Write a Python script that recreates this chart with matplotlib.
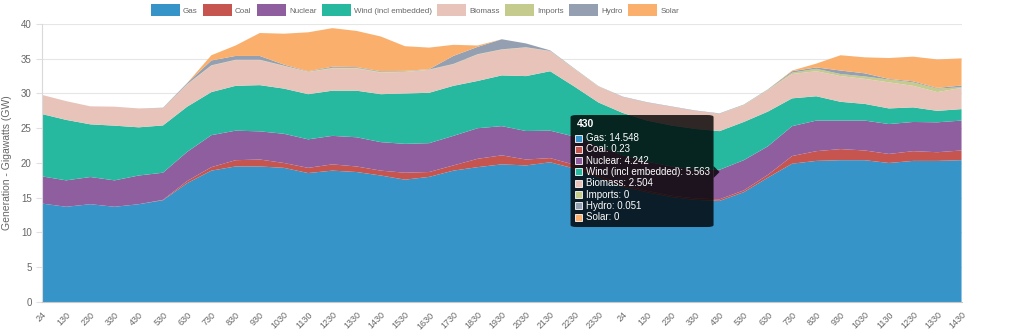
import matplotlib
matplotlib.use("Agg")
import matplotlib.pyplot as plt
from matplotlib.patches import FancyBboxPatch, Rectangle, Polygon
import numpy as np

plt.rcParams['font.family'] = ['Liberation Sans', 'DejaVu Sans']

# half-hour settlement labels, one point per hour
labels = ['24', '130', '230', '330', '430', '530', '630', '730', '830', '930',
          '1030', '1130', '1230', '1330', '1430', '1530', '1630', '1730', '1830',
          '1930', '2030', '2130', '2230', '2330',
          '24', '130', '230', '330', '430', '530', '630', '730', '830', '930',
          '1030', '1130', '1230', '1330', '1430']

gas = [14.16, 13.7, 14.07, 13.7, 14.07, 14.64, 17.1, 18.9, 19.5, 19.5,
       19.3, 18.55, 18.9, 18.7, 18.2, 17.6, 18.0, 18.9, 19.4, 19.8,
       19.65, 20.1, 19.2, 17.9, 16.6, 15.8, 15.1, 14.7, 14.548, 15.8,
       17.9, 19.9, 20.3, 20.4, 20.4, 20.0, 20.3, 20.3, 20.4]
coal = [0, 0, 0, 0, 0, 0.06, 0.3, 0.5, 0.9, 1.0,
        0.7, 0.75, 0.9, 0.8, 0.7, 1.0, 0.7, 0.75, 1.2, 1.3,
        0.85, 0.6, 0.55, 0.3, 0.25, 0.2, 0.2, 0.2, 0.23, 0.25,
        0.4, 1.1, 1.4, 1.6, 1.4, 1.3, 1.4, 1.25, 1.4]
nuclear = [3.91, 3.8, 3.91, 3.8, 4.13, 3.9, 4.2, 4.6, 4.25, 4.05,
           4.2, 4.1, 4.1, 4.2, 4.1, 4.15, 4.15, 4.25, 4.4, 4.2,
           4.1, 3.95, 4.05, 4.2, 4.25, 4.2, 4.2, 4.2, 4.242, 4.35,
           4.1, 4.3, 4.4, 4.1, 4.3, 4.3, 4.2, 4.3, 4.3]
wind = [8.97, 8.7, 7.58, 7.87, 6.93, 6.8, 6.5, 6.2, 6.45, 6.65,
        6.5, 6.5, 6.5, 6.7, 6.9, 7.25, 7.25, 7.2, 6.8, 7.3,
        7.9, 8.55, 7.2, 6.3, 6.1, 5.9, 5.9, 5.8, 5.563, 5.5,
        5.0, 4.0, 3.5, 2.7, 2.4, 2.25, 2.1, 1.65, 1.65]
biomass = [2.76, 2.7, 2.59, 2.73, 2.72, 2.5, 3.2, 3.8, 3.7, 3.6,
           3.25, 3.2, 3.2, 3.2, 3.1, 3.1, 3.3, 3.1, 3.8, 3.7,
           4.1, 2.9, 2.5, 2.3, 2.3, 2.6, 2.7, 2.6, 2.504, 2.4,
           3.1, 3.5, 3.6, 3.7, 3.6, 3.75, 3.1, 2.7, 3.05]
imports = [0, 0, 0, 0, 0, 0, 0.05, 0.05, 0.05, 0.05,
           0.05, 0.05, 0.1, 0.1, 0.1, 0.1, 0.05, 0.05, 0.05, 0.05,
           0.05, 0.02, 0.05, 0.02, 0, 0, 0, 0, 0, 0.05,
           0.05, 0.2, 0.35, 0.3, 0.35, 0.4, 0.5, 0.5, 0.1]
hydro = [0, 0, 0, 0, 0, 0.05, 0.15, 0.7, 0.55, 0.55,
         0.15, 0.05, 0.15, 0.1, 0.1, 0.05, 0.05, 1.15, 1.05, 1.45,
         0.55, 0.08, 0.05, 0.03, 0.05, 0.05, 0.05, 0.05, 0.051, 0.05,
         0.05, 0.2, 0.2, 0.5, 0.45, 0.1, 0.15, 0.1, 0.25]
solar = [0, 0, 0, 0, 0, 0, 0, 0.75, 1.5, 3.3,
         4.45, 5.6, 5.55, 5.2, 5.0, 3.55, 3.1, 1.6, 0.2, 0,
         0, 0, 0, 0, 0, 0, 0, 0, 0, 0,
         0, 0.1, 0.55, 2.2, 2.3, 3.0, 3.55, 4.1, 3.9]

names = ['Gas', 'Coal', 'Nuclear', 'Wind (incl embedded)', 'Biomass', 'Imports', 'Hydro', 'Solar']
colors = ['#3794c9', '#c65550', '#8e5e9e', '#27b9a0', '#e8c3b9', '#c5cb8d', '#949fb1', '#fab06c']
series = [gas, coal, nuclear, wind, biomass, imports, hydro, solar]

tip_index = 28
tip_y = 18.7

fig = plt.figure(figsize=(10.24, 3.31), dpi=100)
ax = fig.add_axes([0.041, 0.0876, 0.898, 0.84])

x = np.arange(len(labels))
ax.stackplot(x, *series, colors=colors, labels=names, linewidth=0)

ax.set_xlim(0, len(labels) - 1)
ax.set_ylim(0, 40)
ax.set_yticks(np.arange(0, 41, 5))
ax.set_xticks(x)
ax.set_xticklabels(labels, rotation=45, ha='right', rotation_mode='anchor')
ax.tick_params(axis='x', labelsize=6.5, labelcolor='#666666', length=0, pad=6)
ax.tick_params(axis='y', labelsize=7, labelcolor='#666666', color='#e0e0e0', length=4, width=0.8)
ax.grid(axis='y', color='#e6e6e6', linewidth=0.8)
ax.set_axisbelow(True)
for s in ['top', 'right']:
    ax.spines[s].set_visible(False)
ax.spines['left'].set_color('#d9d9d9')
ax.spines['bottom'].set_color('#c8c8c8')

ax.set_ylabel('Generation - Gigawatts (GW)', fontsize=7.5, color='#666666', labelpad=6)

fig.legend(loc='upper center', bbox_to_anchor=(0.405, 0.988), ncol=8, frameon=False,
           fontsize=5.8, handlelength=3.6, handleheight=1.9, handletextpad=0.4,
           columnspacing=0.65, borderaxespad=0, borderpad=0, labelcolor='#666666')

# tooltip at the 430 point of day two
fig.canvas.draw()
px, py = ax.transData.transform((x[tip_index], tip_y))
to_fig = fig.transFigure.inverted()

def fpt(dx, dy):
    return to_fig.transform((px + dx, py + dy))

(l, b) = fpt(-149, -55)
(r, t) = fpt(-6, 57)
box = FancyBboxPatch((l, b), r - l, t - b, boxstyle='round,pad=0,rounding_size=0.006',
                     transform=fig.transFigure, facecolor='black', alpha=0.8,
                     edgecolor='none', zorder=10)
fig.patches.append(box)
caret = Polygon([fpt(-6, 6), fpt(0, 0), fpt(-6, -6)], closed=True, transform=fig.transFigure,
                facecolor='black', alpha=0.8, edgecolor='none', zorder=10)
fig.patches.append(caret)

tx, ty = fpt(-143, 48)
fig.text(tx, ty, labels[tip_index], color='white', fontsize=7.5, fontweight='bold',
         va='center', ha='left', zorder=11)
for i, (name, vals, c) in enumerate(zip(names, series, colors)):
    txt = f'{vals[tip_index]:g}'
    sq_l, sq_b = fpt(-145, 34 - i * 11.3 - 3.5)
    sq_r, sq_t = fpt(-138, 34 - i * 11.3 + 3.5)
    fig.patches.append(Rectangle((sq_l, sq_b), sq_r - sq_l, sq_t - sq_b, transform=fig.transFigure,
                                 facecolor=c, edgecolor='white', linewidth=0.6, zorder=11))
    lx, ly = fpt(-134, 34 - i * 11.3)
    fig.text(lx, ly, f'{name}: {txt}', color='white', fontsize=7, va='center', ha='left', zorder=11)

fig.savefig('out.png', dpi=100)
